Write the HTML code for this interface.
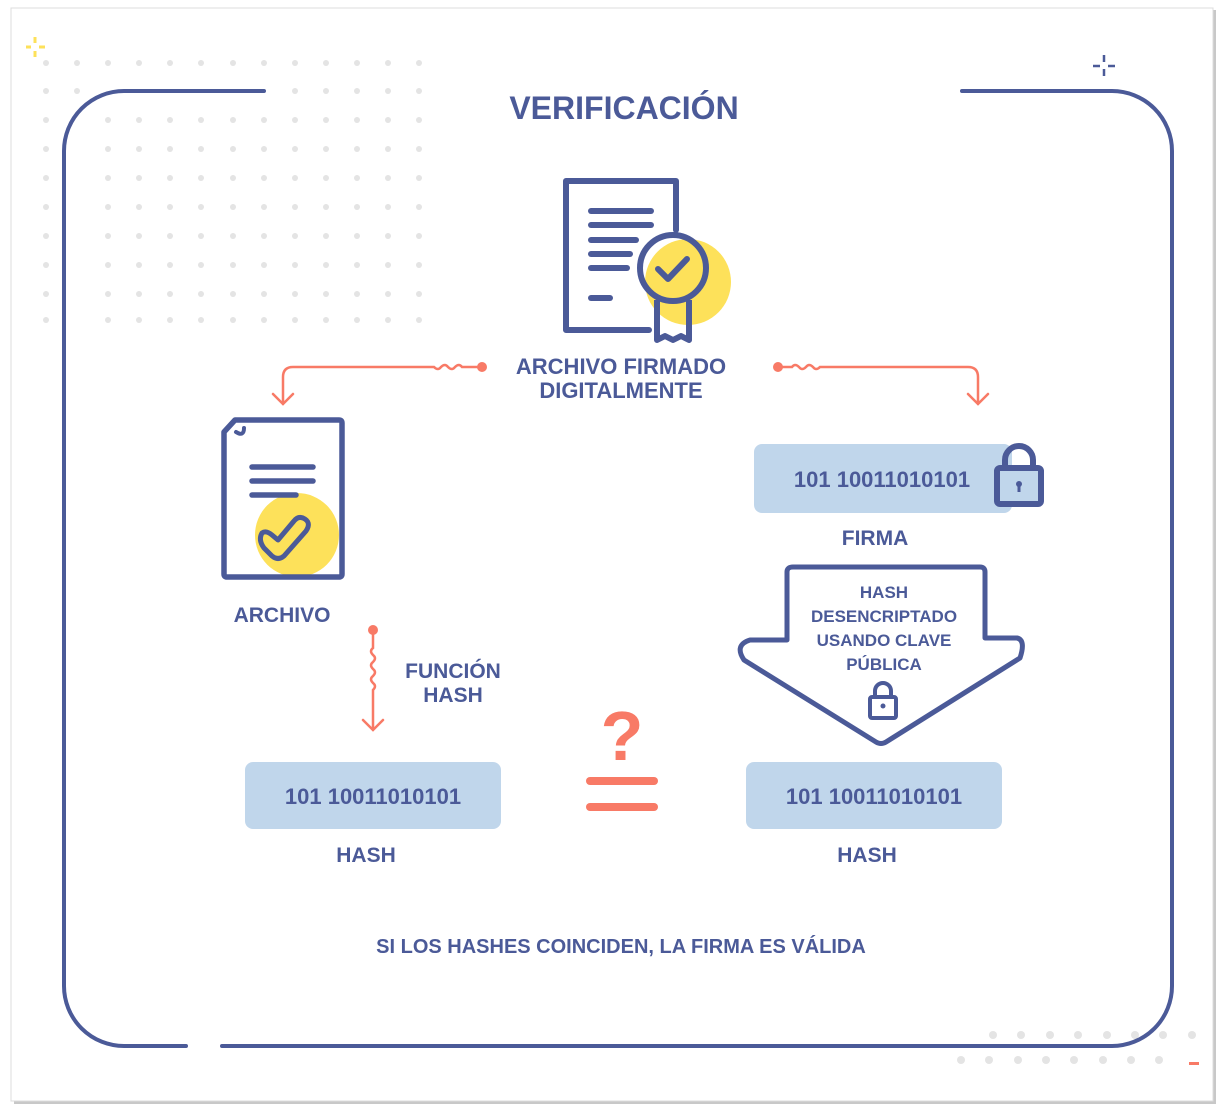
<!DOCTYPE html>
<html><head><meta charset="utf-8"><style>
html,body{margin:0;padding:0;background:#fff}
svg{display:block}
text{font-family:"Liberation Sans",sans-serif;font-weight:bold;fill:#4b5a98}
</style></head><body>
<svg width="1226" height="1118" viewBox="0 0 1226 1118" xmlns="http://www.w3.org/2000/svg">
<rect x="0" y="0" width="1226" height="1118" fill="#fff"/>
<rect x="14" y="10" width="1202" height="1094" fill="#c8c8c8"/>
<rect x="11" y="8" width="1202" height="1093" fill="#fff" stroke="#dcdcdc" stroke-width="1"/>
<g fill="#e4e4e4">
<circle cx="46" cy="63" r="3"/><circle cx="77" cy="63" r="3"/><circle cx="108" cy="63" r="3"/><circle cx="139" cy="63" r="3"/><circle cx="170" cy="63" r="3"/><circle cx="201" cy="63" r="3"/><circle cx="233" cy="63" r="3"/><circle cx="264" cy="63" r="3"/><circle cx="295" cy="63" r="3"/><circle cx="326" cy="63" r="3"/><circle cx="357" cy="63" r="3"/><circle cx="388" cy="63" r="3"/><circle cx="419" cy="63" r="3"/>
<circle cx="46" cy="91" r="3"/><circle cx="77" cy="91" r="3"/><circle cx="295" cy="91" r="3"/><circle cx="326" cy="91" r="3"/><circle cx="357" cy="91" r="3"/><circle cx="388" cy="91" r="3"/><circle cx="419" cy="91" r="3"/>
<g id="r1"><circle cx="46" cy="120" r="3"/><circle cx="108" cy="120" r="3"/><circle cx="139" cy="120" r="3"/><circle cx="170" cy="120" r="3"/><circle cx="201" cy="120" r="3"/><circle cx="233" cy="120" r="3"/><circle cx="264" cy="120" r="3"/><circle cx="295" cy="120" r="3"/><circle cx="326" cy="120" r="3"/><circle cx="357" cy="120" r="3"/><circle cx="388" cy="120" r="3"/><circle cx="419" cy="120" r="3"/></g>
<use href="#r1" y="29"/><use href="#r1" y="58"/><use href="#r1" y="87"/><use href="#r1" y="116"/><use href="#r1" y="145"/><use href="#r1" y="174"/><use href="#r1" y="200"/>
<circle cx="993" cy="1035" r="4"/><circle cx="1021" cy="1035" r="4"/><circle cx="1050" cy="1035" r="4"/><circle cx="1078" cy="1035" r="4"/><circle cx="1107" cy="1035" r="4"/><circle cx="1135" cy="1035" r="4"/><circle cx="1163" cy="1035" r="4"/><circle cx="1192" cy="1035" r="4"/>
<circle cx="961" cy="1060" r="4"/><circle cx="989" cy="1060" r="4"/><circle cx="1018" cy="1060" r="4"/><circle cx="1046" cy="1060" r="4"/><circle cx="1074" cy="1060" r="4"/><circle cx="1103" cy="1060" r="4"/><circle cx="1131" cy="1060" r="4"/><circle cx="1159" cy="1060" r="4"/>
</g>
<rect x="1189" y="1062" width="10" height="3" fill="#f87a66"/>
<g stroke="#fde15a" stroke-width="3"><line x1="35" y1="37" x2="35" y2="43"/><line x1="35" y1="51" x2="35" y2="57"/><line x1="26" y1="47" x2="31" y2="47"/><line x1="39" y1="47" x2="45" y2="47"/></g>
<g stroke="#4b5a98" stroke-width="2.5"><line x1="1104" y1="55" x2="1104" y2="62"/><line x1="1104" y1="69" x2="1104" y2="76"/><line x1="1093" y1="66" x2="1100" y2="66"/><line x1="1108" y1="66" x2="1115" y2="66"/></g>
<path d="M264 91 H124 A60 60 0 0 0 64 151 V986 A60 60 0 0 0 124 1046 H186 M222 1046 H1112 A60 60 0 0 0 1172 986 V151 A60 60 0 0 0 1112 91 H962" fill="none" stroke="#4b5a98" stroke-width="4" stroke-linecap="round"/>
<text x="624" y="119" text-anchor="middle" font-size="32">VERIFICACIÓN</text>
<circle cx="688" cy="282" r="43" fill="#fde15a"/>
<path d="M649 330 H566 V181 H676 V230" fill="none" stroke="#4b5a98" stroke-width="6" stroke-linejoin="round" stroke-linecap="round"/>
<g stroke="#4b5a98" stroke-width="6" stroke-linecap="round"><line x1="591" y1="211" x2="651" y2="211"/><line x1="591" y1="225" x2="651" y2="225"/><line x1="591" y1="240" x2="636" y2="240"/><line x1="591" y1="254" x2="630" y2="254"/><line x1="591" y1="268" x2="627" y2="268"/><line x1="591" y1="298" x2="610" y2="298"/></g>
<circle cx="673" cy="268" r="33" fill="none" stroke="#4b5a98" stroke-width="6"/>
<path d="M658 269 L668 279 L687 259" fill="none" stroke="#4b5a98" stroke-width="6" stroke-linecap="round" stroke-linejoin="round"/>
<path d="M657 300 V340 L665 336 L673 340 L681 336 L689 340 V300" fill="none" stroke="#4b5a98" stroke-width="6" stroke-linejoin="round"/>
<text x="621" y="374" text-anchor="middle" font-size="22">ARCHIVO FIRMADO</text>
<text x="621" y="398" text-anchor="middle" font-size="22">DIGITALMENTE</text>
<g fill="none" stroke="#f87a66" stroke-width="2.5" stroke-linecap="round">
<path d="M482 367 H462 q-3 -4 -7 0 q-3 4 -7 0 q-3 -4 -7 0 q-3 4 -7 0 H293 q-10 0 -10 10 V404 M273 394 L283 404 L293 394"/>
<path d="M778 367 H792 q3 -4 7 0 q3 4 7 0 q3 -4 7 0 q3 4 7 0 H968 q10 0 10 10 V404 M968 394 L978 404 L988 394"/>
<path d="M373 630 V648 q-4 3 0 7 q4 3 0 7 q-4 3 0 7 q4 3 0 7 q-4 3 0 7 q4 3 0 7 V730 M363 720 L373 730 L383 720"/>
</g>
<circle cx="482" cy="367" r="5" fill="#f87a66"/><circle cx="778" cy="367" r="5" fill="#f87a66"/><circle cx="373" cy="630" r="5" fill="#f87a66"/>
<circle cx="297" cy="535" r="42" fill="#fde15a"/>
<path d="M235 420 H339 Q342 420 342 423 V574 Q342 577 339 577 H227 Q224 577 224 574 V432 Z" fill="none" stroke="#4b5a98" stroke-width="5.5" stroke-linejoin="round"/>
<path d="M236 432 Q244 437 244 428" fill="none" stroke="#4b5a98" stroke-width="4" stroke-linecap="round"/>
<g stroke="#4b5a98" stroke-width="5.5" stroke-linecap="round"><line x1="252" y1="467" x2="313" y2="467"/><line x1="252" y1="481" x2="313" y2="481"/><line x1="252" y1="495" x2="296" y2="495"/></g>
<path d="M262 533 Q258 540 264 548 L272 556 Q278 561 284 556 L306 531 Q312 522 303 518 Q298 516 294 521 L278 540 L272 535 Q266 530 262 533 Z" fill="none" stroke="#4b5a98" stroke-width="5" stroke-linejoin="round"/>
<text x="282" y="622" text-anchor="middle" font-size="21">ARCHIVO</text>
<text x="453" y="678" text-anchor="middle" font-size="21">FUNCIÓN</text>
<text x="453" y="702" text-anchor="middle" font-size="21">HASH</text>
<rect x="754" y="444" width="258" height="69" rx="8" fill="#c0d6eb"/>
<text x="882" y="487" text-anchor="middle" font-size="22">101 10011010101</text>
<path d="M1005 468 V460 A14 14 0 0 1 1033 460 V468" fill="none" stroke="#4b5a98" stroke-width="6"/>
<rect x="997" y="468" width="44" height="36" rx="3" fill="#c0d6eb" stroke="#4b5a98" stroke-width="6"/>
<circle cx="1019" cy="484" r="3" fill="#4b5a98"/><rect x="1017.5" y="484" width="3" height="8" fill="#4b5a98"/>
<text x="875" y="545" text-anchor="middle" font-size="21">FIRMA</text>
<path d="M793 567 H980 Q985 567 985 572 V638 H1017 Q1026 640 1020 658 L886 742 Q881 745 876 742 L744 660 Q734 645 750 640 H787 V572 Q787 567 793 567 Z" fill="#fff" stroke="#4b5a98" stroke-width="5" stroke-linejoin="round"/>
<g font-size="17" text-anchor="middle"><text x="884" y="598">HASH</text><text x="884" y="622">DESENCRIPTADO</text><text x="884" y="646">USANDO CLAVE</text><text x="884" y="670">PÚBLICA</text></g>
<path d="M875 697 V691 A8 8 0 0 1 891 691 V697" fill="none" stroke="#4b5a98" stroke-width="4"/>
<rect x="870" y="697" width="26" height="21" rx="2" fill="none" stroke="#4b5a98" stroke-width="4"/>
<circle cx="883" cy="706" r="2.5" fill="#4b5a98"/>
<rect x="245" y="762" width="256" height="67" rx="8" fill="#c0d6eb"/>
<text x="373" y="804" text-anchor="middle" font-size="22">101 10011010101</text>
<text x="366" y="862" text-anchor="middle" font-size="21">HASH</text>
<rect x="746" y="762" width="256" height="67" rx="8" fill="#c0d6eb"/>
<text x="874" y="804" text-anchor="middle" font-size="22">101 10011010101</text>
<text x="867" y="862" text-anchor="middle" font-size="21">HASH</text>
<text x="622" y="760" text-anchor="middle" font-size="70" style="fill:#f87a66">?</text>
<g stroke="#f87a66" stroke-width="8" stroke-linecap="round"><line x1="590" y1="781" x2="654" y2="781"/><line x1="590" y1="807" x2="654" y2="807"/></g>
<text x="621" y="953" text-anchor="middle" font-size="20">SI LOS HASHES COINCIDEN, LA FIRMA ES VÁLIDA</text>
</svg>
</body></html>
